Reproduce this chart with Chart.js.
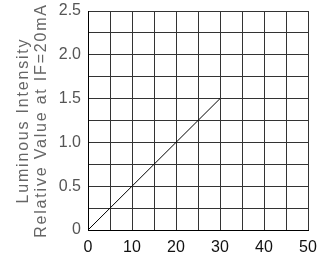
<!DOCTYPE html>
<html>
<head>
<meta charset="utf-8">
<script src="https://cdn.jsdelivr.net/npm/chart.js@4"></script>
<style>
  html, body { margin: 0; padding: 0; background: #fff; }
  #wrap { width: 318px; height: 259px; }
</style>
</head>
<body>
<div id="wrap"><canvas id="lumChart"></canvas></div>
<script>
// data
const currentMA = [0, 30];
const relLum = [0, 1.5];
const yTitle = ['Luminous Intensity', 'Relative Value at IF=20mA'];

let ctx = document.getElementById('lumChart').getContext('2d');

Chart.defaults.font.family = 'Liberation Sans';
Chart.defaults.color = '#444';

// the axis title in the picture is spaced out a bit
const LinearScale = Chart.registry.getScale('linear');
const origDrawTitle = LinearScale.prototype.drawTitle;
LinearScale.prototype.drawTitle = function () {
    const c = this.ctx;
    c.save();
    if (this.id === 'y') c.letterSpacing = '1.8px';
    origDrawTitle.apply(this, arguments);
    c.restore();
};

const lumData = {
    datasets: [{
        data: currentMA.map((x, i) => ({ x: x, y: relLum[i] })),
        borderColor: '#000',
        borderWidth: 1,
        pointRadius: 0,
        fill: false
    }]
};

const lumConfig = {
    type: 'line',
    data: lumData,
    options: {
        responsive: true,
        maintainAspectRatio: false,
        animation: false,
        layout: { padding: { left: 0, right: 10, top: 11, bottom: 0 } },
        plugins: { legend: { display: false }, tooltip: { enabled: false } },
        scales: {
            x: {
                type: 'linear',
                min: 0, max: 50,
                border: { color: '#000', width: 1 },
                grid: { color: '#333', lineWidth: 1, drawTicks: false },
                ticks: {
                    stepSize: 5,
                    autoSkip: false,
                    maxRotation: 0,
                    padding: 8,
                    color: '#111',
                    font: { size: 16 },
                    callback: v => (v % 10 === 0 ? String(v) : '')
                },
                afterFit: s => { s.height = 29; s.paddingLeft = 0; s.paddingRight = 0; }
            },
            y: {
                min: 0, max: 2.5,
                border: { color: '#000', width: 1 },
                grid: { color: '#333', lineWidth: 1, drawTicks: false },
                ticks: {
                    stepSize: 0.25,
                    autoSkip: false,
                    padding: 7,
                    color: '#555',
                    font: { size: 16 },
                    callback: v => {
                        if (Math.abs(v * 2 - Math.round(v * 2)) > 1e-6) return '';
                        return v === 0 ? '0' : v.toFixed(1);
                    }
                },
                title: {
                    display: true,
                    text: yTitle,
                    color: '#666',
                    font: { size: 16, lineHeight: 1.15 },
                    padding: { top: 14, bottom: 0 }
                },
                afterFit: s => { s.width = 88; s.paddingTop = 0; s.paddingBottom = 0; }
            }
        }
    }
};

const lumChart = new Chart(ctx, lumConfig);
</script>
</body>
</html>
